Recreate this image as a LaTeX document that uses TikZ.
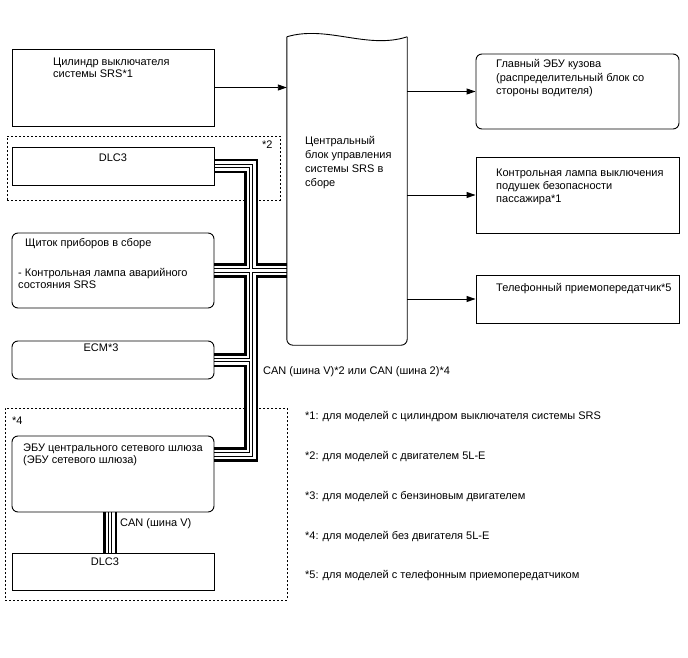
\documentclass[tikz,border=0pt]{standalone}
\usepackage{fontspec}
\setmainfont{Liberation Sans}
\usetikzlibrary{arrows.meta,calc,backgrounds}
\tikzset{
  blk/.style={draw, line width=0.9pt, minimum width=202pt, inner sep=0pt},
  rblk/.style={blk, rounded corners=6pt},
  grp/.style={draw, dash pattern=on 2pt off 2pt, line width=0.6pt, inner sep=0pt},
  txt/.style={font=\fontsize{11}{12}\selectfont, align=left, inner sep=0pt, anchor=base west},
  sig/.style={-{Triangle[length=9pt,width=6pt]}, line width=0.9pt},
}

\begin{document}
\begin{tikzpicture}[x=1pt,y=-1pt]
  \useasboundingbox (0,0) rectangle (688,658);

  % left column
  \node[blk, minimum height=77pt] (cyl) at (113,87.5) {};
  \node[blk, minimum height=38pt] (dlcA) at (113,166) {};
  \node[rblk, minimum height=75pt] (ip) at (113,270.5) {};
  \node[rblk, minimum height=38pt] (ecm) at (113,360) {};
  \node[rblk, minimum height=76pt] (gw) at (113,474) {};
  \node[blk, minimum height=37pt] (dlcB) at (113,571.5) {};

  % right column
  \node[rblk, minimum width=203pt, minimum height=75pt] (glav) at (577.5,91.5) {};
  \node[blk, minimum width=203pt, minimum height=76pt] (lamp) at (577.5,195) {};
  \node[blk, minimum width=203pt, minimum height=48pt] (tel) at (577.5,299) {};

  % airbag sensor assembly
  \node[minimum width=120pt, minimum height=308pt, inner sep=0pt] (srs) at (347,191) {};
  \draw[line width=0.9pt, rounded corners=6pt] (srs.north east) -- (srs.south east)
    -- (srs.south west) -- (srs.north west);
  \draw[line width=0.9pt] (srs.north west) .. controls ($(srs.north west)+(40,-12)$)
    and ($(srs.north east)+(-40,13)$) .. (srs.north east);

  \begin{pgfonlayer}{background}
    % dashed groups
    \node[grp, minimum width=273pt, minimum height=64pt] (grpA) at (143.5,168) {};
    \node[grp, minimum width=282pt, minimum height=192pt] (grpB) at (146,504) {};
    % CAN bus: thick, thin, thin, thick
    \coordinate (busx) at (251,0);
    \coordinate (gwtap) at ($(gw.north east)+(0,19)$);
    \foreach \w/\c in {14.4/black, 9/white, 4.6/black, 2.6/white} {
      \draw[line width=\w pt, \c] (dlcA.east) -| (busx |- gwtap) -- (gwtap)
        (ip.east) -- (ip.east -| srs.west)
        (ecm.east) -- ($(ecm.east -| busx)+(1.2,0)$)
        ([xshift=-3pt]gw.south) -- ([xshift=-3pt]dlcB.north);
    }
  \end{pgfonlayer}

  % signals
  \draw[sig] (cyl) -- (cyl -| srs.west);
  \draw[sig] (srs.east |- glav) -- (glav);
  \draw[sig] (srs.east |- lamp) -- (lamp);
  \draw[sig] (srs.east |- tel) -- (tel);

  % texts
  \node[txt] (cyltxt) at (53,78) {Цилиндр выключателя\\системы SRS*1};
  \node[txt, anchor=base] (dlcAtxt) at (113,161.5) {DLC3};
  \node[txt] (grpAtxt) at (262,148.5) {*2};
  \node[txt, font=\fontsize{11}{14}\selectfont] (srstxt) at (305,186)
    {Центральный\\блок управления\\системы SRS в\\сборе};
  \node[txt, font=\fontsize{11}{13.5}\selectfont] (glavtxt) at (496,95)
    {Главный ЭБУ кузова\\(распределительный блок со\\стороны водителя)};
  \node[txt, font=\fontsize{11}{13}\selectfont] (lamptxt) at (496,202)
    {Контрольная лампа выключения\\подушек безопасности\\пассажира*1};
  \node[txt] (teltxt) at (496,291) {Телефонный приемопередатчик*5};
  \node[txt] (iptitle) at (25,246) {Щиток приборов в сборе};
  \node[txt] (iptxt) at (18,288) {- Контрольная лампа аварийного\\состояния SRS};
  \node[txt, anchor=base] (ecmtxt) at (101,351.5) {ECM*3};
  \node[txt] (grpBtxt) at (12,424) {*4};
  \node[txt] (gwtxt) at (23,463) {ЭБУ центрального сетевого шлюза\\(ЭБУ сетевого шлюза)};
  \node[txt] (canVtxt) at (120,526) {CAN (шина V)};
  \node[txt, anchor=base] (dlcBtxt) at (105,565.5) {DLC3};
  \node[txt] (cantxt) at (263,374) {CAN (шина V)*2 или CAN (шина 2)*4};

  % notes
  \node[txt] (note1) at (305,419) {*1: для моделей с цилиндром выключателя системы SRS};
  \node[txt] (note2) at (305,459) {*2: для моделей с двигателем 5L-E};
  \node[txt] (note3) at (305,499) {*3: для моделей с бензиновым двигателем};
  \node[txt] (note4) at (305,539) {*4: для моделей без двигателя 5L-E};
  \node[txt] (note5) at (305,578) {*5: для моделей с телефонным приемопередатчиком};
\end{tikzpicture}
\end{document}
